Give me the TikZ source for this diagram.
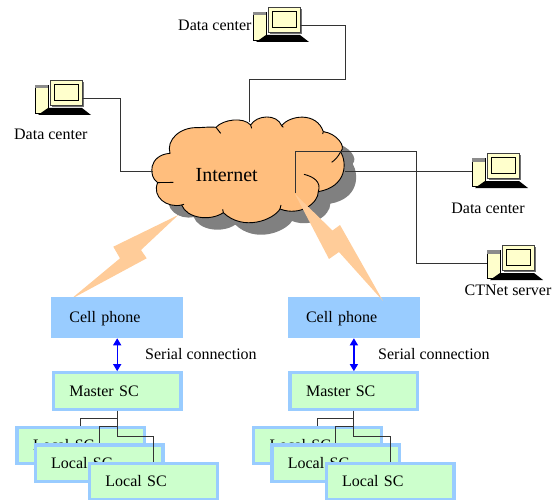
\documentclass[tikz,border=0pt]{standalone}
\usepackage{fontspec}
\setmainfont{Liberation Serif}
\definecolor{PhoneBlue}{RGB}{153, 204, 255}
\definecolor{BoxGreen}{RGB}{204, 255, 204}
\definecolor{CloudOrange}{RGB}{255, 190, 125}
\definecolor{BoltOrange}{RGB}{255, 204, 153}
\definecolor{PcCream}{RGB}{255, 255, 204}
\usetikzlibrary{arrows.meta, positioning, calc}

\newcommand{\cloudoutline}{
    (120,130) .. controls (108,90) and (150,50) .. (205,53) .. controls (225,52) and (245,50) .. (258,52)
    .. controls (280,28) and (340,20) .. (362,45)
    .. controls (380,15) and (440,10) .. (455,47)
    .. controls (480,15) and (560,5) .. (580,65)
    .. controls (620,70) and (650,110) .. (632,125)
    .. controls (652,160) and (650,230) .. (565,245)
    .. controls (565,280) and (510,320) .. (450,297)
    .. controls (430,330) and (340,365) .. (280,308)
    .. controls (240,335) and (170,325) .. (155,285)
    .. controls (110,295) and (65,260) .. (83,218)
    .. controls (55,200) and (55,135) .. (120,130) -- cycle}

% name, top left corner of the monitor
\newcommand{\computer}[3]{
    \begin{scope}[shift={(#2,#3)}]
        \fill[black!55] (2,2) rectangle (34,27);
        \draw[fill=PcCream, line width=0.7pt] (-15,5) rectangle (-2,33);
        \fill[black!45] (-14.6,5.4) rectangle (-2.4,8.5);
        \fill[black] (-2,28) -- (32,28) -- (41,35) -- (-12,35) -- cycle;
        \node[monitor] (#1) at (16,12.5) {};
        \draw[fill=PcCream, line width=0.8pt] (4.5,4) rectangle (28,20.5);
        \coordinate (#1r) at (32,18);
        \coordinate (#1l) at (-15,18);
    \end{scope}
}

\begin{document}
\begin{tikzpicture}[x=1pt, y=-1pt,
        label/.style={font=\fontsize{16}{18}\selectfont, inner sep=0pt},
        monitor/.style={rectangle, draw=black!75, fill=PcCream, line width=0.8pt, inner sep=0pt, minimum width=32pt, minimum height=25pt},
        phonebox/.style={rectangle, fill=PhoneBlue, inner sep=0pt, inner xsep=18pt, text width=95.7pt, text height=11pt, text depth=0.5pt, align=left, minimum height=40.7pt, font=\fontsize{16}{18}\selectfont},
        scbox/.style={rectangle, draw=PhoneBlue, fill=BoxGreen, line width=3.3pt, inner sep=0pt, inner xsep=16pt, text width=95.7pt, text height=11pt, text depth=0.5pt, align=left, minimum height=36.4pt, font=\fontsize{16}{18}\selectfont},
        wire/.style={black!80, line width=0.9pt},
        link/.style={{Stealth[length=7pt, width=8pt, inset=0pt]}-{Stealth[length=7pt, width=8pt, inset=0pt]}, blue, line width=1.2pt},
        bolt/.style={fill=BoltOrange}
    ]
        \useasboundingbox (0,0) rectangle (554,500);

        % Cloud
        \begin{scope}[shift={(130,110)}, scale=0.3333]
            \fill[black!50, shift={(36,36)}] \cloudoutline;
            \draw[fill=CloudOrange, line width=0.9pt] \cloudoutline;
            \draw[line width=0.9pt] (258,52) -- (272,70);
            \draw[line width=0.9pt] (362,45) -- (365,55);
            \draw[line width=0.9pt] (455,47) -- (460,52);
            \draw[line width=0.9pt] (580,65) -- (578,72);
            \draw[line width=0.9pt] (632,125) .. controls (625,140) and (615,150) .. (605,157);
            \draw[line width=0.9pt] (565,245) .. controls (575,215) and (550,200) .. (522,193);
            \draw[line width=0.9pt] (450,297) -- (453,285);
            \draw[line width=0.9pt] (280,308) -- (278,298);
            \draw[line width=0.9pt] (155,285) -- (162,283);
            \draw[line width=0.9pt] (83,218) .. controls (95,217) and (115,218) .. (130,217);
        \end{scope}
        \node[font=\fontsize{20}{22}\selectfont, inner sep=0pt] (cloud) at (226.7,175) {Internet};
        \coordinate (cloudTop) at (249,122);
        \coordinate (cloudLeft) at (153,171);
        \coordinate (cloudRight) at (345,171);
        \coordinate (cloudIn) at (295,193);

        % Radio links
        \path[bolt] (178.3,215) -- (113.3,246.7) -- (120,258.3) -- (70.7,299.3) -- (146.7,258.3) -- (141,250) -- cycle;

        % Computers
        \computer{dc1}{268}{7}
        \computer{dc2}{50}{80}
        \computer{dc3}{487}{153}
        \computer{srv}{502}{245}
        \node[label, anchor=west] (dc1lab) at (178,25) {Data center};
        \node[label] (dc2lab) at (50.8,134) {Data center};
        \node[label] (dc3lab) at (488,208) {Data center};
        \node[label, anchor=west] (srvlab) at (464.5,290) {CTNet server};

        % Left branch
        \node[phonebox] (phone1) at (117.2,317.7) {Cell phone};
        \node[scbox] (master1) at (117.2,391) {Master SC};
        \node[scbox] (local11) at (80.85,445.5) {Local SC};
        \node[scbox] (local12) at (99,463.3) {Local SC};
        \node[scbox] (local13) at (153.3,481.5) {Local SC};
        \draw[link] (phone1.south) -- (master1.north);
        \node[label, anchor=west] (serial1) at (145,353.8) {Serial connection};
        \draw[wire] (master1.south) -- ++(0,8) -| (local11.north);
        \draw[wire] (master1.south) -- ++(0,16) -| (local12.north);
        \draw[wire] (master1.south) -- ++(0,25.3) -| (local13.north);

        % Right branch
        \node[phonebox] (phone2) at (353.9,317.7) {Cell phone};
        \node[scbox] (master2) at (353.9,391) {Master SC};
        \node[scbox] (local21) at (317.5,445.5) {Local SC};
        \node[scbox] (local22) at (335.7,463.3) {Local SC};
        \node[scbox] (local23) at (390,481.5) {Local SC};
        \draw[link] (phone2.south) -- (master2.north);
        \node[label, anchor=west] (serial2) at (378,353.8) {Serial connection};
        \draw[wire] (master2.south) -- ++(0,8) -| (local21.north);
        \draw[wire] (master2.south) -- ++(0,16) -| (local22.north);
        \draw[wire] (master2.south) -- ++(0,25.3) -| (local23.north);

        \path[bolt] (295,194) -- (329,259) -- (339,252) -- (383,301) -- (340,225) -- (332.5,230.5) -- cycle;

        % Network lines
        \coordinate (topBend) at (345,79);
        \coordinate (leftBend) at (120,171);
        \coordinate (srvBend) at (416,151);
        \draw[wire] (dc1r) -| (topBend) -| (cloudTop);
        \draw[wire] (dc2r) -| (leftBend) -- (cloudLeft);
        \draw[wire] (cloudRight) -- (dc3l);
        \draw[wire] (cloudIn) |- (srvBend) |- (srvl);
    \end{tikzpicture}
\end{document}
